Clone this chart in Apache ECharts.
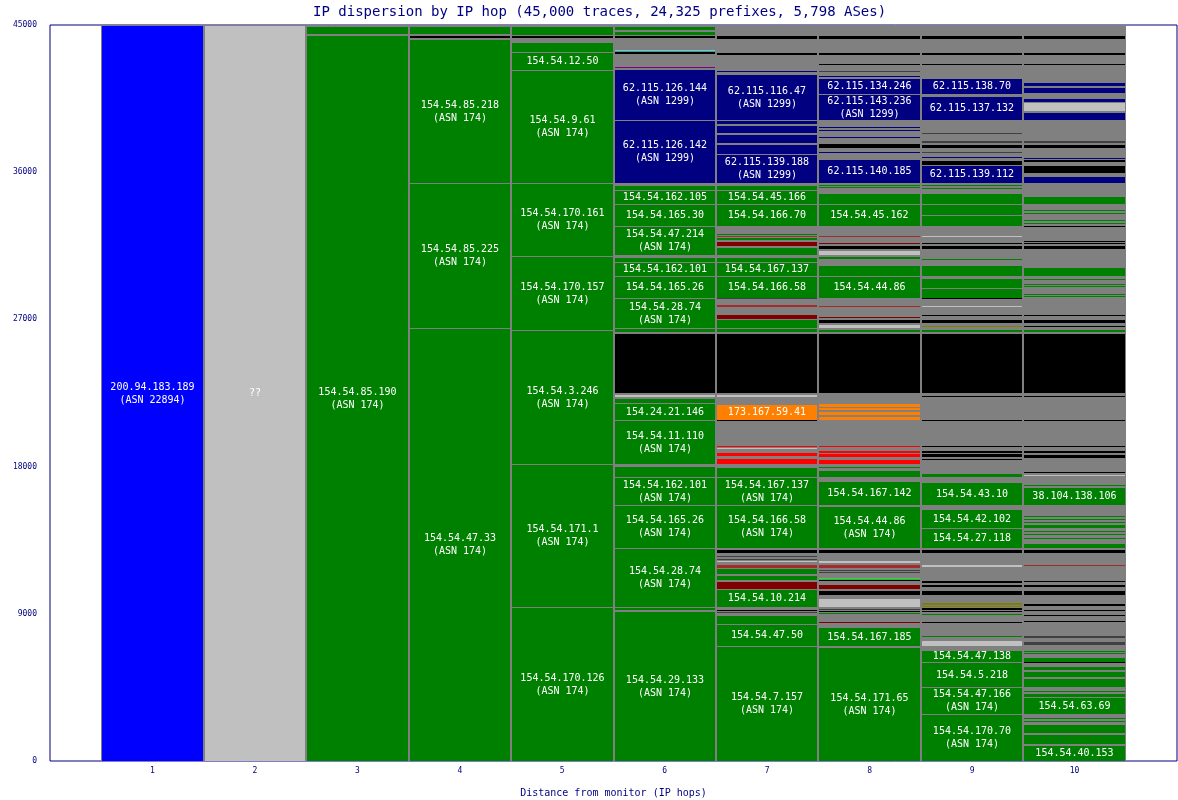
<!DOCTYPE html>
<html>
<head>
<meta charset="utf-8">
<script src="https://cdn.jsdelivr.net/npm/echarts@6/dist/echarts.min.js"></script>
<style>
html,body{margin:0;padding:0;background:#fff;}
#chart{width:1178px;height:800px;}
</style>
</head>
<body>
<div id="chart"></div>
<script>
// ---- data: each segment is [lowTraces, highTraces, group, label] ----
const titleText = 'IP dispersion by IP hop (45,000 traces, 24,325 prefixes, 5,798 ASes)';
const xAxisName = 'Distance from monitor (IP hops)';
const yAxisName = 'Number of traces';
const totalTraces = 45000;
const hopNumbers = [1,2,3,4,5,6,7,8,9,10];
const yTicks = [0, 9000, 18000, 27000, 36000, 45000];

const hop1 = [[0,45000,'as22894','200.94.183.189\n(ASN 22894)']];
const hop2 = [[0,45000,'star','??']];
const hop3 = [
  [44449,44938,'as174',''],
  [0,44388,'as174','154.54.85.190\n(ASN 174)']
];
const hop4 = [
  [44449,44938,'as174',''],
  [44204,44327,'multi',''],
  [35339,44143,'as174','154.54.85.218\n(ASN 174)'],
  [26474,35339,'as174','154.54.85.225\n(ASN 174)'],
  [0,26474,'as174','154.54.47.33\n(ASN 174)']
];
const hop5 = [
  [44388,44938,'as174',''],
  [44204,44327,'multi',''],
  [43348,43960,'as174',''],
  [42248,43348,'as174','154.54.12.50'],
  [35339,42248,'as174','154.54.9.61\n(ASN 174)'],
  [30876,35339,'as174','154.54.170.161\n(ASN 174)'],
  [26351,30876,'as174','154.54.170.157\n(ASN 174)'],
  [18159,26351,'as174','154.54.3.246\n(ASN 174)'],
  [9416,18159,'as174','154.54.171.1\n(ASN 174)'],
  [0,9416,'as174','154.54.170.126\n(ASN 174)']
];
const hop6 = [
  [44693,44877,'as174',''],
  [44388,44632,'as174',''],
  [44204,44327,'multi',''],
  [43409,43470,'asC',''],
  [43226,43348,'multi',''],
  [42370,42431,'asP',''],
  [39191,42309,'as1299','62.115.126.144\n(ASN 1299)'],
  [35339,39191,'as1299','62.115.126.142\n(ASN 1299)'],
  [34911,35217,'as174',''],
  [34055,34911,'as174','154.54.162.105'],
  [32710,34055,'as174','154.54.165.30'],
  [30937,32710,'as174','154.54.47.214\n(ASN 174)'],
  [30509,30815,'as174',''],
  [29653,30509,'as174','154.54.162.101'],
  [28308,29653,'as174','154.54.165.26'],
  [26474,28308,'as174','154.54.28.74\n(ASN 174)'],
  [26229,26412,'as174',''],
  [22500,26168,'multi',''],
  [22255,22377,'star',''],
  [21888,22194,'as174',''],
  [20849,21888,'as174','154.24.21.146'],
  [18159,20849,'as174','154.54.11.110\n(ASN 174)'],
  [17364,18036,'as174',''],
  [15652,17364,'as174','154.54.162.101\n(ASN 174)'],
  [13023,15652,'as174','154.54.165.26\n(ASN 174)'],
  [9416,13023,'as174','154.54.28.74\n(ASN 174)'],
  [9232,9354,'as174',''],
  [0,9171,'as174','154.54.29.133\n(ASN 174)']
];
const hop7 = [
  [44143,44327,'multi',''],
  [43165,43287,'multi',''],
  [42125,42187,'as1299',''],
  [39191,42003,'as1299','62.115.116.47\n(ASN 1299)'],
  [38946,39130,'as1299',''],
  [38396,38885,'as1299',''],
  [37785,38335,'as1299',''],
  [37112,37723,'as1299',''],
  [35339,37112,'as1299','62.115.139.188\n(ASN 1299)'],
  [34911,35217,'as174',''],
  [34055,34911,'as174','154.54.45.166'],
  [32710,34055,'as174','154.54.166.70'],
  [32160,32221,'as174',''],
  [32010,32098,'asB',''],
  [31854,31976,'as174',''],
  [31487,31793,'asM',''],
  [30937,31426,'as174',''],
  [30509,30815,'as174',''],
  [29653,30509,'as174','154.54.167.137'],
  [28308,29653,'as174','154.54.166.58'],
  [28247,28308,'asD',''],
  [27758,27880,'asB',''],
  [27024,27330,'asM',''],
  [26474,27024,'as174',''],
  [26229,26412,'as174',''],
  [22500,26168,'multi',''],
  [22255,22377,'star',''],
  [20849,21827,'as7922','173.167.59.41'],
  [20788,20849,'multi',''],
  [19198,19259,'asR',''],
  [19076,19137,'star',''],
  [18648,18892,'asR',''],
  [18159,18525,'asR',''],
  [17364,17975,'as174',''],
  [15652,17364,'as174','154.54.167.137\n(ASN 174)'],
  [13023,15652,'as174','154.54.166.58\n(ASN 174)'],
  [12717,12962,'multi',''],
  [12473,12534,'asD',''],
  [12289,12350,'asD',''],
  [12167,12228,'star',''],
  [11800,12045,'asB',''],
  [11433,11800,'as174',''],
  [11066,11372,'as174',''],
  [10516,11005,'asM',''],
  [9416,10516,'as174','154.54.10.214'],
  [9171,9232,'multi',''],
  [9049,9110,'asD',''],
  [8376,8926,'as174',''],
  [7031,8376,'as174','154.54.47.50'],
  [0,7031,'as174','154.54.7.157\n(ASN 174)']
];
const hop8 = [
  [44143,44327,'multi',''],
  [43165,43287,'multi',''],
  [42553,42615,'multi',''],
  [42125,42187,'asD',''],
  [41820,41881,'as1299',''],
  [40780,41758,'as1299','62.115.134.246'],
  [39191,40780,'as1299','62.115.143.236\n(ASN 1299)'],
  [38702,38763,'as1299',''],
  [38518,38579,'as1299',''],
  [38090,38151,'as1299',''],
  [37479,37785,'multi',''],
  [37173,37234,'as1299',''],
  [35339,36806,'as1299','62.115.140.185'],
  [35156,35217,'as174',''],
  [35033,35094,'as174',''],
  [34055,34728,'as174',''],
  [32710,34055,'as174','154.54.45.162'],
  [32037,32098,'asB',''],
  [31609,31670,'asM',''],
  [31304,31487,'multi',''],
  [30937,31243,'star',''],
  [30692,30815,'as174',''],
  [29653,30326,'as174',''],
  [28308,29653,'as174','154.54.44.86'],
  [27758,27819,'asB',''],
  [27085,27146,'asM',''],
  [26779,26963,'multi',''],
  [26474,26718,'star',''],
  [26229,26351,'as174',''],
  [22500,26168,'multi',''],
  [21644,21827,'as7922',''],
  [21460,21583,'as7922',''],
  [21155,21399,'as7922',''],
  [20849,21032,'as7922',''],
  [19198,19259,'asR',''],
  [18831,18954,'asR',''],
  [18587,18770,'asR',''],
  [18159,18464,'asR',''],
  [17914,17975,'as174',''],
  [17364,17792,'as174',''],
  [15652,17119,'as174','154.54.167.142'],
  [13023,15591,'as174','154.54.44.86\n(ASN 174)'],
  [12717,12962,'multi',''],
  [12106,12228,'star',''],
  [11800,12045,'asB',''],
  [11617,11678,'asD',''],
  [11494,11555,'asD',''],
  [11127,11188,'asL',''],
  [11005,11066,'multi',''],
  [10516,10822,'asM',''],
  [10149,10455,'multi',''],
  [9416,9966,'star',''],
  [9232,9293,'asD',''],
  [9110,9171,'multi',''],
  [8988,9049,'as174',''],
  [8437,8498,'asM',''],
  [7031,8193,'as174','154.54.167.185'],
  [0,6970,'as174','154.54.171.65\n(ASN 174)']
];
const hop9 = [
  [44143,44327,'multi',''],
  [43165,43287,'multi',''],
  [42553,42615,'multi',''],
  [40780,41758,'as1299','62.115.138.70'],
  [39191,40658,'as1299','62.115.137.132'],
  [38335,38396,'asD',''],
  [37785,37907,'asD',''],
  [37479,37723,'multi',''],
  [37173,37234,'asD',''],
  [36867,36928,'as1299',''],
  [36440,36745,'multi',''],
  [35339,36440,'as1299','62.115.139.112'],
  [35156,35217,'as174',''],
  [34972,35033,'as174',''],
  [34055,34728,'as174',''],
  [33382,34055,'as174',''],
  [32710,33382,'as174',''],
  [32037,32098,'star',''],
  [31609,31670,'multi',''],
  [31304,31487,'multi',''],
  [30631,30692,'as174',''],
  [29653,30326,'as174',''],
  [28919,29530,'as174',''],
  [28308,28919,'as174',''],
  [28247,28308,'multi',''],
  [27758,27819,'star',''],
  [27207,27268,'multi',''],
  [26779,26963,'multi',''],
  [26535,26596,'asO',''],
  [26229,26351,'as174',''],
  [22500,26168,'multi',''],
  [22255,22316,'multi',''],
  [20788,20849,'multi',''],
  [19198,19259,'multi',''],
  [18831,18954,'multi',''],
  [18587,18770,'multi',''],
  [18403,18464,'multi',''],
  [17364,17608,'as174',''],
  [15652,17058,'as174','154.54.43.10'],
  [14246,15407,'as174','154.54.42.102'],
  [13023,14246,'as174','154.54.27.118'],
  [12717,12962,'multi',''],
  [11861,11983,'star',''],
  [10883,11005,'multi',''],
  [10638,10761,'multi',''],
  [10149,10455,'multi',''],
  [9538,9660,'asO',''],
  [9416,9477,'asO',''],
  [9232,9354,'multi',''],
  [9110,9171,'multi',''],
  [8926,8988,'as174',''],
  [8437,8498,'multi',''],
  [7581,7642,'as174',''],
  [7031,7398,'star',''],
  [6053,6787,'as174','154.54.47.138'],
  [4524,6053,'as174','154.54.5.218'],
  [2874,4524,'as174','154.54.47.166\n(ASN 174)'],
  [0,2874,'as174','154.54.170.70\n(ASN 174)']
];
const hop10 = [
  [44143,44327,'multi',''],
  [43165,43287,'multi',''],
  [42553,42615,'multi',''],
  [41270,41514,'as1299',''],
  [40842,41208,'as1299',''],
  [40291,40536,'as1299',''],
  [39741,40291,'star',''],
  [39191,39680,'as1299',''],
  [37785,37907,'asD',''],
  [37479,37723,'multi',''],
  [36806,36867,'as1299',''],
  [36623,36745,'multi',''],
  [35950,36440,'multi',''],
  [35339,35767,'as1299',''],
  [34055,34544,'as174',''],
  [33627,33688,'as174',''],
  [33443,33505,'as174',''],
  [33016,33077,'as174',''],
  [32832,32893,'as174',''],
  [32649,32710,'multi',''],
  [31732,31793,'multi',''],
  [31609,31670,'multi',''],
  [31304,31487,'multi',''],
  [29653,30203,'as174',''],
  [29408,29469,'as174',''],
  [29103,29164,'as174',''],
  [28980,29042,'as174',''],
  [28491,28552,'as174',''],
  [28369,28430,'as174',''],
  [27207,27268,'multi',''],
  [26779,26963,'multi',''],
  [26535,26596,'multi',''],
  [26229,26351,'as174',''],
  [22500,26168,'multi',''],
  [22255,22316,'multi',''],
  [20788,20849,'multi',''],
  [19198,19259,'multi',''],
  [18831,18954,'multi',''],
  [18525,18770,'multi',''],
  [17608,17669,'multi',''],
  [17425,17486,'star',''],
  [16814,16875,'as174',''],
  [15652,16752,'as174','38.104.138.106'],
  [14918,14979,'as174',''],
  [14735,14796,'as174',''],
  [14551,14612,'as174',''],
  [14246,14490,'as174',''],
  [14001,14062,'as174',''],
  [13818,13879,'as174',''],
  [13573,13634,'as174',''],
  [13023,13329,'as174',''],
  [12717,12962,'multi',''],
  [11922,11983,'asB',''],
  [10944,11005,'multi',''],
  [10638,10761,'multi',''],
  [10149,10455,'multi',''],
  [9477,9599,'multi',''],
  [9171,9232,'multi',''],
  [8865,8926,'multi',''],
  [8498,8559,'multi',''],
  [7520,7642,'asD',''],
  [7092,7337,'asD',''],
  [6664,6725,'as174',''],
  [6542,6603,'as174',''],
  [6053,6359,'as174',''],
  [5992,6053,'multi',''],
  [5564,5808,'as174',''],
  [5136,5503,'as174',''],
  [4524,5075,'as174',''],
  [4219,4280,'as174',''],
  [3913,4096,'as174',''],
  [2874,3913,'as174','154.54.63.69'],
  [2568,2629,'as174',''],
  [2384,2445,'as174',''],
  [1712,2262,'as174',''],
  [1039,1651,'as174',''],
  [0,978,'as174','154.54.40.153']
];

// ---- styles ----
const groupColors = {
  as174: '#008000', as1299: '#000080', as22894: '#0000ff', star: '#c0c0c0',
  multi: '#000000', as7922: '#ff8000', asR: '#ff0000', asM: '#800000',
  asB: '#a52a2a', asO: '#808000', asL: '#00ff00', asC: '#40e0e0',
  asP: '#800080', asD: '#404040'
};
const baseGray = '#808080';
const navy = '#000080';
const mono = '"DejaVu Sans Mono", "Liberation Mono", monospace';

const allHops = [hop1,hop2,hop3,hop4,hop5,hop6,hop7,hop8,hop9,hop10];
const baseData = hopNumbers.map(h => [h, 0, totalTraces]);
const segData = [];
const segMeta = [];
allHops.forEach((list, i) => {
  list.forEach(s => {
    segData.push([hopNumbers[i], s[0], s[1]]);
    segMeta.push({ color: groupColors[s[2]], label: s[3] });
  });
});

const chart = echarts.init(document.getElementById('chart'), null, {renderer: 'canvas'});
chart.setOption({
  animation: false,
  backgroundColor: '#ffffff',
  title: {
    text: titleText, left: 308, top: 0,
    textStyle: { fontFamily: mono, fontSize: 14, fontWeight: 'normal', color: navy }
  },
  grid: {
    left: 50, right: 1, top: 25, bottom: 39,
    containLabel: false, outerBoundsMode: 'none',
    show: true, borderColor: navy, borderWidth: 1, backgroundColor: '#ffffff'
  },
  xAxis: {
    type: 'value', min: 0, max: 11, interval: 1,
    name: xAxisName, nameLocation: 'middle', nameGap: 27,
    nameTextStyle: { fontFamily: mono, fontSize: 10, color: navy },
    axisLine: { show: false }, axisTick: { show: false }, splitLine: { show: false },
    axisLabel: {
      fontFamily: mono, fontSize: 8, color: navy, margin: 6,
      formatter: v => (hopNumbers.indexOf(v) >= 0 ? String(v) : '')
    }
  },
  yAxis: {
    type: 'value', min: 0, max: totalTraces, interval: 9000,
    name: yAxisName, nameLocation: 'middle', nameGap: 41,
    nameTextStyle: { fontFamily: mono, fontSize: 10, color: navy },
    axisLine: { show: false }, axisTick: { show: false }, splitLine: { show: false },
    axisLabel: {
      fontFamily: mono, fontSize: 8, color: navy, margin: 13,
      formatter: v => (yTicks.indexOf(v) >= 0 ? String(v) : '')
    }
  },
  series: [
    {
      type: 'custom', data: baseData, encode: { x: 0, y: [1, 2] }, silent: true,
      renderItem: function (params, api) {
        const h = api.value(0);
        const p0 = api.coord([h - 0.5, api.value(2)]);
        const p1 = api.coord([h + 0.5, api.value(1)]);
        return { type: 'rect',
          shape: { x: Math.round(p0[0]), y: Math.round(p0[1]), width: Math.round(p1[0]) - Math.round(p0[0]), height: Math.round(p1[1]) - Math.round(p0[1]) },
          style: { fill: baseGray } };
      }
    },
    {
      type: 'custom', data: segData, encode: { x: 0, y: [1, 2] }, silent: true,
      renderItem: function (params, api) {
        const h = api.value(0);
        const p0 = api.coord([h - 0.5, api.value(2)]);
        const p1 = api.coord([h + 0.5, api.value(1)]);
        const x0 = Math.round(p0[0]) + 1;
        const x1 = Math.round(p1[0]) - 1;
        let y0 = Math.round(p0[1]);
        let y1 = Math.round(p1[1]);
        if (y1 - y0 < 1) { y1 = y0 + 1; }
        if (y1 - y0 >= 4) { y0 += 1; }
        const meta = segMeta[params.dataIndex];
        const el = { type: 'rect',
          shape: { x: x0, y: y0, width: x1 - x0, height: y1 - y0 },
          style: { fill: meta.color } };
        if (meta.label) {
          el.textContent = { style: { text: meta.label, fill: '#ffffff', font: '10px ' + mono, align: 'center', verticalAlign: 'middle', lineHeight: 13 } };
          el.textConfig = { position: 'inside' };
        }
        return el;
      }
    }
  ]
});
</script>
</body>
</html>
